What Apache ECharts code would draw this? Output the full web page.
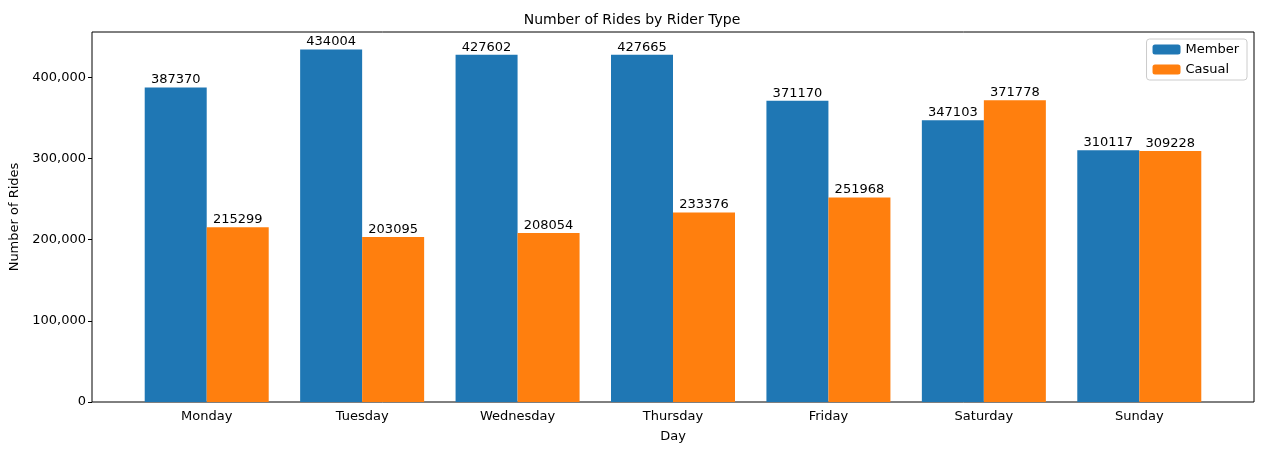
<!DOCTYPE html>
<html><head><meta charset="utf-8">
<script src="https://cdn.jsdelivr.net/npm/echarts@6/dist/echarts.min.js"></script>
<style>html,body{margin:0;background:#fff}#c{width:1264px;height:455px}</style>
</head><body><div id="c"></div>
<script>
const days = ['Monday','Tuesday','Wednesday','Thursday','Friday','Saturday','Sunday'];
const member = [387370,434004,427602,427665,371170,347103,310117];
const casual = [215299,203095,208054,233376,251968,371778,309228];
const yMax = 455704;
const font = 'DejaVu Sans';
const lbl = {show:true,position:'top',color:'#000',fontSize:13,fontFamily:font,distance:1};
const chart = echarts.init(document.getElementById('c'));
chart.setOption({
  animation:false,
  textStyle:{fontFamily:font},
  title:{text:'Number of Rides by Rider Type',left:'center',top:8,textStyle:{fontSize:14,fontWeight:'normal',color:'#000',fontFamily:font}},
  legend:{orient:'vertical',right:17,top:39,itemWidth:28,itemHeight:10,itemGap:7,padding:[4,8,4,6],
    borderColor:'#ccc',borderWidth:1,borderRadius:3,textStyle:{fontSize:13,color:'#000',fontFamily:font},data:['Member','Casual']},
  grid:[
    {left:92,right:10,top:32,bottom:53,show:true,borderColor:'#000',borderWidth:1,backgroundColor:'transparent'},
    {left:129,right:47,top:32,bottom:53}
  ],
  xAxis:[
    {gridIndex:0,type:'value',min:0,max:1,show:false},
    {gridIndex:1,type:'category',data:days,boundaryGap:true,
     axisLine:{show:false},axisTick:{alignWithLabel:true,length:4,lineStyle:{color:'#000'}},
     axisLabel:{color:'#000',fontSize:13,fontFamily:font,margin:8},
     name:'Day',nameLocation:'middle',nameGap:28,nameTextStyle:{color:'#000',fontSize:13,fontFamily:font}}
  ],
  yAxis:[
    {gridIndex:0,type:'value',min:0,max:yMax,interval:100000,
     axisLine:{show:false},axisTick:{show:true,length:4,lineStyle:{color:'#000'}},splitLine:{show:false},
     axisLabel:{color:'#000',fontSize:13,fontFamily:font,margin:6,showMaxLabel:false},
     name:'Number of Rides',nameLocation:'middle',nameGap:68,nameTextStyle:{color:'#000',fontSize:13,fontFamily:font}},
    {gridIndex:1,type:'value',min:0,max:yMax,show:false}
  ],
  series:[
    {name:'Member',type:'bar',xAxisIndex:1,yAxisIndex:1,data:member,barWidth:62,barGap:'0%',itemStyle:{color:'#1f77b4'},label:lbl},
    {name:'Casual',type:'bar',xAxisIndex:1,yAxisIndex:1,data:casual,barWidth:62,barGap:'0%',itemStyle:{color:'#ff7f0e'},label:lbl}
  ]
});
</script></body></html>
